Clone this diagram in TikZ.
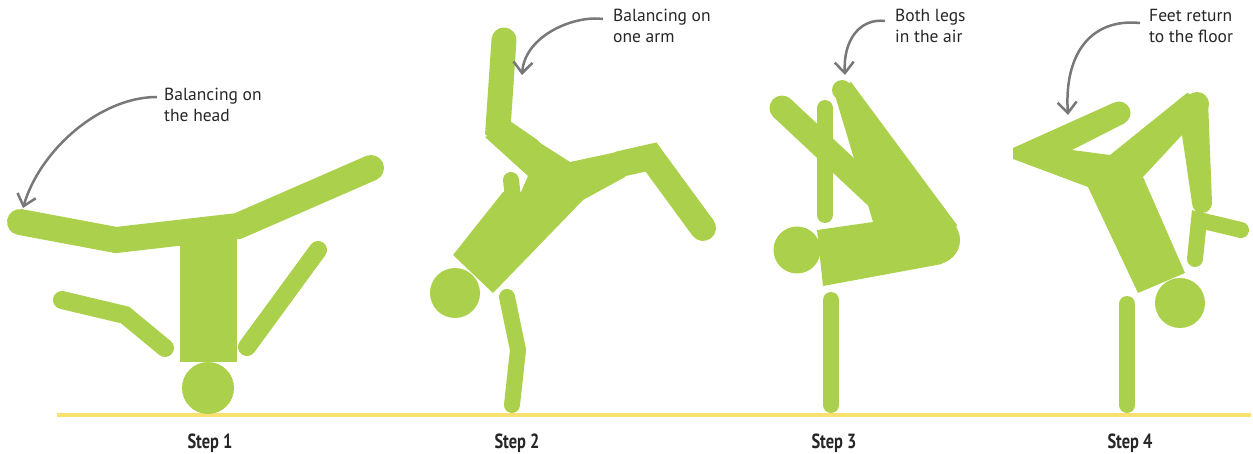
\documentclass[tikz,border=0pt]{standalone}
\usepackage{fontspec}
\setmainfont{PT Sans}
\newfontfamily\stepfont{PT Sans}[FakeStretch=0.8]
\usepackage{xcolor}
\usetikzlibrary{arrows.meta}
\definecolor{limbgreen}{RGB}{171,208,76}
\definecolor{floorgold}{RGB}{250,224,110}
\definecolor{noteline}{RGB}{120,120,122}
\definecolor{notetext}{RGB}{38,38,38}

\begin{document}
\begin{tikzpicture}[x=1pt,y=-1pt,
	limb/.style={draw=limbgreen,line width=#1pt,line cap=round},
	trunk/.style={fill=limbgreen},
	note/.style={anchor=base west,align=left,inner sep=0pt,text=notetext,font=\fontsize{17.5}{21}\selectfont},
	pointer/.style={draw=noteline,line width=2.5pt,-{Straight Barb[length=11pt,width=19pt]}},
	steplabel/.style={anchor=base,inner sep=0pt,text=notetext,font=\stepfont\bfseries\fontsize{20.5}{24}\selectfont}]
	\useasboundingbox (0,0) rectangle (1253,454);
	% floor and captions
	\draw[floorgold,line width=4pt] (57,415) -- (1251,415);
	\foreach \n/\x in {1/210,2/517,3/834,4/1130}
		\node[steplabel] (step\n) at (\x,448) {Step \n};

	% step 1
	\fill[trunk] (180,228) rectangle (237,362);
	\fill[trunk] (208,388) circle (26pt);
	\draw[limb=26,line join=miter] (20,222) -- (116,240) -- (238,226) -- (371,168);
	\draw[limb=18] (62,300) -- (125,315) -- (165,348);
	\draw[limb=18] (247,347) -- (318,250);

	% step 2
	\fill[trunk] (453,255) -- (493,293) -- (583,200) -- (625,177) -- (645,146) -- (570,162) -- (512,125)
		-- (485,137) -- (528,176) -- (521,192) -- (503,192) -- cycle;
	\draw[limb=16] (511,180) -- (513,198);
	\fill[trunk] (455,293) circle (25pt);
	\draw[limb=25,line join=miter] (504,40) -- (498,128) -- (530,150);
	\draw[limb=26,line join=miter] (620,164) -- (651,157) -- (703,228);
	\draw[limb=16] (507,297) -- (518,350) -- (512,405);

	% step 3
	\fill[trunk] (823,286) -- (817,230) -- (873,222) -- (834,92) -- (851,82) -- (957,225) -- (942,264) -- cycle;
	\fill[trunk] (936,240) circle (24pt);
	\fill[trunk] (842,90) circle (10pt);
	\fill[trunk] (797,250) circle (23.5pt);
	\draw[limb=25] (782,108) -- (875,195);
	\draw[limb=16] (825,108) -- (825,215);
	\draw[limb=16] (831,300) -- (831,405);

	% step 4
	\fill[trunk] (1013,148) -- (1113,103) -- (1125,123) -- (1072,150) -- (1110,155) -- (1187,93) -- (1208,100)
		-- (1212,203) -- (1192,203) -- (1182,135) -- (1143,177) -- (1185,273) -- (1138,293) -- (1088,187)
		-- (1013,159) -- cycle;
	\fill[trunk] (1119,113) circle (11.5pt);
	\fill[trunk] (1197,104) circle (12pt);
	\fill[trunk] (1202,203) circle (10pt);
	\fill[trunk] (1180,303) circle (25pt);
	\draw[limb=16] (1195,259) -- (1199,220) -- (1241,230);
	\draw[limb=16] (1127,304) -- (1127,405);

	% callouts
	\node[note] (note1) at (164,122) {Balancing on\\the head};
	\node[note] (note2) at (613,43) {Balancing on\\one arm};
	\node[note] (note3) at (895,43) {Both legs\\in the air};
	\node[note] (note4) at (1149,43) {Feet return\\to the floor};
	\coordinate (tip1) at (23,208);
	\coordinate (tip2) at (522,75);
	\coordinate (tip3) at (845,75);
	\coordinate (tip4) at (1068,115);
	\draw[pointer] ([xshift=-7pt,yshift=25pt]note1.base west) .. controls (100,97) and (40,150) .. (tip1);
	\draw[pointer] ([xshift=-10pt,yshift=24pt]note2.base west) .. controls (575,15) and (525,35) .. (tip2);
	\draw[pointer] ([xshift=-10pt,yshift=22pt]note3.base west) .. controls (860,18) and (843,40) .. (tip3);
	\draw[pointer] ([xshift=-9pt,yshift=20pt]note4.base west) .. controls (1090,18) and (1064,55) .. (tip4);
\end{tikzpicture}
\end{document}
